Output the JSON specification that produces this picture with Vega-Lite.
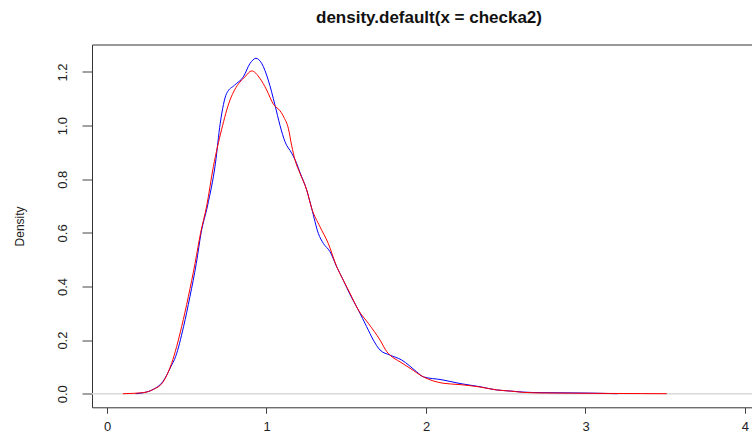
{
  "$schema": "https://vega.github.io/schema/vega-lite/v6.json",
  "width": 660,
  "height": 362.8,
  "autosize": {"type": "none"},
  "padding": {"left": 92, "top": 44.5, "right": 0, "bottom": 25.7},
  "background": "white",
  "config": {
    "view": {"stroke": null},
    "font": "Liberation Sans",
    "axis": {"grid": false, "labelColor": "#222", "titleColor": "#222", "domainColor": "#333", "tickColor": "#444", "labelFont": "Liberation Sans", "titleFont": "Liberation Sans"}
  },
  "title": {
    "text": "density.default(x = checka2)",
    "fontSize": 17,
    "fontWeight": "bold",
    "font": "Liberation Sans",
    "color": "#111",
    "anchor": "middle",
    "dx": 7,
    "offset": 18
  },
  "datasets": {
    "curves": [
      {"x": 0.18, "y": 0.0, "s": "blue"},
      {"x": 0.23, "y": 0.004, "s": "blue"},
      {"x": 0.29, "y": 0.016, "s": "blue"},
      {"x": 0.35, "y": 0.045, "s": "blue"},
      {"x": 0.40, "y": 0.10, "s": "blue"},
      {"x": 0.43, "y": 0.138, "s": "blue"},
      {"x": 0.48, "y": 0.25, "s": "blue"},
      {"x": 0.52, "y": 0.362, "s": "blue"},
      {"x": 0.56, "y": 0.486, "s": "blue"},
      {"x": 0.59, "y": 0.60, "s": "blue"},
      {"x": 0.63, "y": 0.70, "s": "blue"},
      {"x": 0.68, "y": 0.86, "s": "blue"},
      {"x": 0.71, "y": 1.009, "s": "blue"},
      {"x": 0.75, "y": 1.12, "s": "blue"},
      {"x": 0.80, "y": 1.151, "s": "blue"},
      {"x": 0.855, "y": 1.182, "s": "blue"},
      {"x": 0.897, "y": 1.232, "s": "blue"},
      {"x": 0.934, "y": 1.251, "s": "blue"},
      {"x": 0.97, "y": 1.232, "s": "blue"},
      {"x": 1.011, "y": 1.17, "s": "blue"},
      {"x": 1.053, "y": 1.077, "s": "blue"},
      {"x": 1.085, "y": 1.0, "s": "blue"},
      {"x": 1.116, "y": 0.94, "s": "blue"},
      {"x": 1.158, "y": 0.897, "s": "blue"},
      {"x": 1.189, "y": 0.859, "s": "blue"},
      {"x": 1.21, "y": 0.825, "s": "blue"},
      {"x": 1.252, "y": 0.76, "s": "blue"},
      {"x": 1.283, "y": 0.692, "s": "blue"},
      {"x": 1.325, "y": 0.598, "s": "blue"},
      {"x": 1.356, "y": 0.561, "s": "blue"},
      {"x": 1.398, "y": 0.53, "s": "blue"},
      {"x": 1.44, "y": 0.474, "s": "blue"},
      {"x": 1.481, "y": 0.424, "s": "blue"},
      {"x": 1.524, "y": 0.37, "s": "blue"},
      {"x": 1.576, "y": 0.312, "s": "blue"},
      {"x": 1.628, "y": 0.25, "s": "blue"},
      {"x": 1.67, "y": 0.2, "s": "blue"},
      {"x": 1.712, "y": 0.163, "s": "blue"},
      {"x": 1.774, "y": 0.144, "s": "blue"},
      {"x": 1.847, "y": 0.126, "s": "blue"},
      {"x": 1.941, "y": 0.082, "s": "blue"},
      {"x": 1.983, "y": 0.063, "s": "blue"},
      {"x": 2.1, "y": 0.052, "s": "blue"},
      {"x": 2.213, "y": 0.038, "s": "blue"},
      {"x": 2.339, "y": 0.026, "s": "blue"},
      {"x": 2.443, "y": 0.014, "s": "blue"},
      {"x": 2.527, "y": 0.01, "s": "blue"},
      {"x": 2.61, "y": 0.006, "s": "blue"},
      {"x": 2.715, "y": 0.004, "s": "blue"},
      {"x": 2.92, "y": 0.003, "s": "blue"},
      {"x": 3.05, "y": 0.002, "s": "blue"},
      {"x": 3.2, "y": 0.0, "s": "blue"},
      {"x": 0.10, "y": 0.0, "s": "red"},
      {"x": 0.228, "y": 0.004, "s": "red"},
      {"x": 0.29, "y": 0.016, "s": "red"},
      {"x": 0.353, "y": 0.045, "s": "red"},
      {"x": 0.405, "y": 0.113, "s": "red"},
      {"x": 0.468, "y": 0.25, "s": "red"},
      {"x": 0.51, "y": 0.362, "s": "red"},
      {"x": 0.552, "y": 0.486, "s": "red"},
      {"x": 0.587, "y": 0.6, "s": "red"},
      {"x": 0.625, "y": 0.7, "s": "red"},
      {"x": 0.667, "y": 0.847, "s": "red"},
      {"x": 0.718, "y": 0.984, "s": "red"},
      {"x": 0.771, "y": 1.095, "s": "red"},
      {"x": 0.80, "y": 1.133, "s": "red"},
      {"x": 0.865, "y": 1.182, "s": "red"},
      {"x": 0.907, "y": 1.204, "s": "red"},
      {"x": 0.959, "y": 1.176, "s": "red"},
      {"x": 1.001, "y": 1.133, "s": "red"},
      {"x": 1.043, "y": 1.08, "s": "red"},
      {"x": 1.085, "y": 1.055, "s": "red"},
      {"x": 1.11, "y": 1.03, "s": "red"},
      {"x": 1.137, "y": 0.99, "s": "red"},
      {"x": 1.158, "y": 0.925, "s": "red"},
      {"x": 1.179, "y": 0.872, "s": "red"},
      {"x": 1.21, "y": 0.822, "s": "red"},
      {"x": 1.252, "y": 0.76, "s": "red"},
      {"x": 1.283, "y": 0.692, "s": "red"},
      {"x": 1.335, "y": 0.623, "s": "red"},
      {"x": 1.387, "y": 0.561, "s": "red"},
      {"x": 1.44, "y": 0.474, "s": "red"},
      {"x": 1.481, "y": 0.424, "s": "red"},
      {"x": 1.524, "y": 0.374, "s": "red"},
      {"x": 1.576, "y": 0.312, "s": "red"},
      {"x": 1.638, "y": 0.263, "s": "red"},
      {"x": 1.712, "y": 0.2, "s": "red"},
      {"x": 1.754, "y": 0.157, "s": "red"},
      {"x": 1.774, "y": 0.144, "s": "red"},
      {"x": 1.837, "y": 0.119, "s": "red"},
      {"x": 1.9, "y": 0.095, "s": "red"},
      {"x": 1.983, "y": 0.063, "s": "red"},
      {"x": 2.108, "y": 0.039, "s": "red"},
      {"x": 2.213, "y": 0.034, "s": "red"},
      {"x": 2.339, "y": 0.025, "s": "red"},
      {"x": 2.443, "y": 0.014, "s": "red"},
      {"x": 2.527, "y": 0.01, "s": "red"},
      {"x": 2.61, "y": 0.005, "s": "red"},
      {"x": 2.715, "y": 0.003, "s": "red"},
      {"x": 2.9, "y": 0.002, "s": "red"},
      {"x": 3.15, "y": 0.001, "s": "red"},
      {"x": 3.35, "y": 0.0005, "s": "red"},
      {"x": 3.51, "y": 0.0, "s": "red"}
    ]
  },
  "resolve": {"axis": {"x": "independent"}},
  "layer": [
    {
      "data": {"values": [{"h": 0, "a": -0.094, "b": 4.044}]},
      "mark": {"type": "rule", "color": "#d9d9d9", "strokeWidth": 1.5},
      "encoding": {
        "y": {"field": "h", "type": "quantitative", "scale": {"domain": [-0.0507, 1.3025], "nice": false, "zero": false}},
        "x": {"field": "a", "type": "quantitative", "axis": {"orient": "top", "labels": false, "ticks": false, "domain": true, "title": null, "domainColor": "#333"}},
        "x2": {"field": "b"}
      }
    },
    {
      "data": {"name": "curves"},
      "mark": {"type": "line", "strokeWidth": 1, "interpolate": "monotone"},
      "encoding": {
        "x": {
          "field": "x", "type": "quantitative",
          "scale": {"domain": [-0.094, 4.044], "nice": false, "zero": false},
          "axis": {"values": [0, 1, 2, 3, 4], "title": null, "tickSize": 6, "labelFontSize": 13, "labelPadding": 7, "labelFlush": false, "labelOverlap": false}
        },
        "y": {
          "field": "y", "type": "quantitative",
          "scale": {"domain": [-0.0507, 1.3025], "nice": false, "zero": false},
          "axis": {"values": [0, 0.2, 0.4, 0.6, 0.8, 1.0, 1.2], "format": ".1f", "title": "Density", "titleFontSize": 12, "titleFontWeight": "normal", "titlePadding": 30, "labelAngle": 270, "tickSize": 10, "labelFontSize": 13, "labelPadding": 13, "labelFlush": false, "labelOverlap": false}
        },
        "color": {"field": "s", "type": "nominal", "scale": {"domain": ["blue", "red"], "range": ["#0000ff", "#ff0000"]}, "legend": null},
        "detail": {"field": "s"}
      }
    }
  ]
}
